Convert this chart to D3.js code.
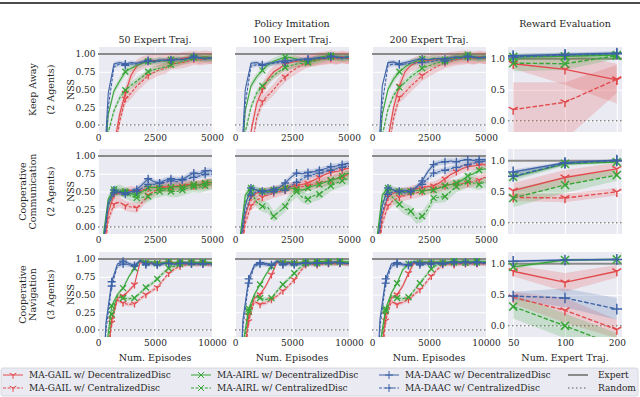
<!DOCTYPE html>
<html>
<head>
<meta charset="utf-8">
<script src="https://cdn.jsdelivr.net/npm/d3@7"></script>
<style>
  body { margin: 0; background: #fff; }
  text { font-family: "DejaVu Serif", serif; fill: #262626; }
</style>
</head>
<body>
<svg id="chart" width="640" height="397"></svg>
<script>
// ---- data ----
var methodNames = ["MA-GAIL w/ DecentralizedDisc", "MA-GAIL w/ CentralizedDisc",
                   "MA-AIRL w/ DecentralizedDisc", "MA-AIRL w/ CentralizedDisc",
                   "MA-DAAC w/ DecentralizedDisc", "MA-DAAC w/ CentralizedDisc"];
var rowLabels = [["Keep Away", "(2 Agents)"], ["Cooperative", "Communication", "(2 Agents)"], ["Cooperative", "Navigation", "(3 Agents)"]];
var colTitles = ["50 Expert Traj.", "100 Expert Traj.", "200 Expert Traj."];
var expertTraj = ["50", "100", "200"];
var nssTicks = [0, 0.25, 0.5, 0.75, 1];
var rewardTicks = [0, 0.5, 1];
var shortTicks = [0, 2500, 5000];
var longTicks = [0, 5000, 10000];

var episodesShort = [200, 450, 700, 950, 1200, 1450, 1700, 1950, 2200, 2450, 2700, 2950, 3200, 3450, 3700, 3950, 4200, 4450, 4700, 4950, 5000];
var episodesLong = [200, 700, 1200, 1700, 2200, 2700, 3200, 3700, 4200, 4700, 5200, 5700, 6200, 6700, 7200, 7700, 8200, 8700, 9200, 9700, 10000];

// NSS curves, order: GAIL dec, GAIL cen, AIRL dec, AIRL cen, DAAC dec, DAAC cen
var keepAway50 = [
  [-2.0, -1.0, -0.3, 0.15, 0.45, 0.7, 0.83, 0.88, 0.9, 0.91, 0.9, 0.92, 0.93, 0.92, 0.94, 0.95, 0.96, 0.95, 0.96, 0.95, 0.95],
  [-2.0, -1.2, -0.5, 0.05, 0.37, 0.45, 0.55, 0.62, 0.7, 0.74, 0.78, 0.8, 0.86, 0.87, 0.88, 0.9, 0.93, 0.92, 0.93, 0.94, 0.93],
  [-1.0, 0.15, 0.48, 0.62, 0.75, 0.8, 0.84, 0.87, 0.9, 0.89, 0.91, 0.9, 0.92, 0.93, 0.92, 0.94, 0.96, 0.95, 0.96, 0.95, 0.95],
  [-1.3, -0.1, 0.2, 0.38, 0.49, 0.56, 0.62, 0.68, 0.75, 0.78, 0.8, 0.82, 0.85, 0.87, 0.9, 0.92, 0.95, 0.94, 0.93, 0.94, 0.93],
  [-1.0, 0.45, 0.86, 0.88, 0.86, 0.88, 0.87, 0.89, 0.91, 0.9, 0.92, 0.91, 0.92, 0.93, 0.92, 0.94, 0.97, 0.95, 0.94, 0.95, 0.94],
  [-1.2, 0.25, 0.82, 0.86, 0.84, 0.86, 0.86, 0.88, 0.9, 0.89, 0.9, 0.92, 0.91, 0.92, 0.93, 0.93, 0.95, 0.94, 0.93, 0.94, 0.93]
];
var keepAway100 = [
  [-2.0, -0.8, -0.1, 0.3, 0.5, 0.65, 0.75, 0.8, 0.86, 0.88, 0.9, 0.91, 0.9, 0.92, 0.94, 0.95, 0.96, 0.95, 0.96, 0.95, 0.95],
  [-2.0, -1.0, -0.4, 0.1, 0.33, 0.42, 0.5, 0.6, 0.68, 0.75, 0.8, 0.85, 0.9, 0.91, 0.92, 0.93, 0.94, 0.93, 0.95, 0.94, 0.94],
  [-1.0, 0.2, 0.55, 0.68, 0.77, 0.85, 0.9, 0.93, 0.96, 0.95, 0.93, 0.9, 0.89, 0.92, 0.95, 0.97, 0.98, 0.96, 0.95, 0.96, 0.95],
  [-1.3, -0.1, 0.25, 0.45, 0.55, 0.62, 0.7, 0.76, 0.81, 0.84, 0.86, 0.87, 0.88, 0.9, 0.92, 0.94, 0.96, 0.95, 0.94, 0.95, 0.94],
  [-1.0, 0.5, 0.87, 0.88, 0.85, 0.87, 0.88, 0.9, 0.9, 0.91, 0.92, 0.93, 0.93, 0.94, 0.95, 0.94, 0.97, 0.96, 0.95, 0.96, 0.95],
  [-1.2, 0.3, 0.83, 0.85, 0.84, 0.86, 0.87, 0.88, 0.88, 0.9, 0.91, 0.92, 0.92, 0.93, 0.94, 0.95, 0.96, 0.95, 0.94, 0.95, 0.94]
];
var keepAway200 = [
  [-2.0, -0.9, -0.2, 0.25, 0.55, 0.75, 0.84, 0.88, 0.9, 0.91, 0.92, 0.93, 0.92, 0.94, 0.95, 0.96, 0.96, 0.95, 0.96, 0.95, 0.95],
  [-2.0, -1.1, -0.4, 0.1, 0.39, 0.46, 0.55, 0.62, 0.7, 0.75, 0.8, 0.84, 0.88, 0.9, 0.92, 0.93, 0.94, 0.93, 0.95, 0.94, 0.94],
  [-1.0, 0.15, 0.5, 0.65, 0.75, 0.82, 0.87, 0.9, 0.93, 0.92, 0.94, 0.93, 0.92, 0.94, 0.96, 0.97, 0.99, 0.96, 0.95, 0.96, 0.95],
  [-1.3, -0.15, 0.22, 0.42, 0.53, 0.6, 0.68, 0.74, 0.8, 0.83, 0.86, 0.88, 0.9, 0.92, 0.94, 0.95, 0.96, 0.95, 0.94, 0.95, 0.94],
  [-1.0, 0.55, 0.88, 0.89, 0.86, 0.88, 0.9, 0.92, 0.93, 0.92, 0.93, 0.94, 0.93, 0.95, 0.96, 0.95, 0.97, 0.96, 0.95, 0.96, 0.95],
  [-1.2, 0.3, 0.84, 0.86, 0.85, 0.86, 0.87, 0.88, 0.88, 0.89, 0.9, 0.92, 0.9, 0.92, 0.94, 0.95, 0.96, 0.95, 0.94, 0.95, 0.94]
];
var commun50 = [
  [-0.5, 0.2, 0.45, 0.48, 0.5, 0.52, 0.5, 0.52, 0.55, 0.56, 0.55, 0.57, 0.56, 0.58, 0.58, 0.6, 0.58, 0.6, 0.62, 0.63, 0.62],
  [-0.6, 0.1, 0.32, 0.35, 0.3, 0.28, 0.27, 0.35, 0.45, 0.5, 0.55, 0.56, 0.55, 0.57, 0.56, 0.58, 0.6, 0.59, 0.6, 0.61, 0.6],
  [-0.2, 0.4, 0.53, 0.5, 0.5, 0.47, 0.45, 0.5, 0.55, 0.56, 0.55, 0.54, 0.56, 0.57, 0.56, 0.58, 0.6, 0.59, 0.62, 0.63, 0.62],
  [-0.3, 0.3, 0.5, 0.52, 0.48, 0.44, 0.41, 0.42, 0.43, 0.48, 0.5, 0.52, 0.5, 0.5, 0.52, 0.55, 0.57, 0.56, 0.58, 0.6, 0.59],
  [-0.3, 0.35, 0.52, 0.48, 0.48, 0.5, 0.53, 0.6, 0.68, 0.64, 0.62, 0.66, 0.68, 0.67, 0.67, 0.72, 0.76, 0.75, 0.79, 0.8, 0.78],
  [-0.4, 0.3, 0.48, 0.5, 0.46, 0.49, 0.5, 0.55, 0.6, 0.6, 0.62, 0.63, 0.65, 0.64, 0.66, 0.68, 0.7, 0.72, 0.74, 0.75, 0.74]
];
var commun100 = [
  [-0.5, 0.15, 0.42, 0.48, 0.5, 0.5, 0.52, 0.53, 0.55, 0.57, 0.58, 0.6, 0.62, 0.66, 0.7, 0.74, 0.77, 0.78, 0.8, 0.83, 0.82],
  [-0.6, 0.05, 0.3, 0.38, 0.42, 0.45, 0.48, 0.5, 0.52, 0.54, 0.55, 0.57, 0.58, 0.6, 0.62, 0.64, 0.66, 0.68, 0.7, 0.74, 0.73],
  [-0.2, 0.45, 0.55, 0.52, 0.5, 0.5, 0.52, 0.53, 0.55, 0.55, 0.53, 0.52, 0.55, 0.58, 0.6, 0.63, 0.66, 0.68, 0.72, 0.76, 0.75],
  [-0.3, 0.35, 0.5, 0.35, 0.29, 0.27, 0.15, 0.22, 0.29, 0.42, 0.5, 0.42, 0.39, 0.44, 0.46, 0.52, 0.58, 0.62, 0.65, 0.68, 0.67],
  [-0.3, 0.3, 0.55, 0.52, 0.5, 0.52, 0.53, 0.56, 0.62, 0.7, 0.76, 0.75, 0.77, 0.78, 0.8, 0.82, 0.85, 0.86, 0.88, 0.9, 0.89],
  [-0.4, 0.2, 0.45, 0.5, 0.5, 0.48, 0.5, 0.52, 0.52, 0.58, 0.63, 0.68, 0.72, 0.74, 0.76, 0.78, 0.8, 0.82, 0.84, 0.86, 0.85]
];
var commun200 = [
  [-0.5, 0.15, 0.42, 0.48, 0.5, 0.5, 0.52, 0.54, 0.55, 0.57, 0.58, 0.62, 0.68, 0.74, 0.78, 0.82, 0.85, 0.86, 0.87, 0.88, 0.87],
  [-0.6, 0.05, 0.3, 0.38, 0.42, 0.44, 0.46, 0.48, 0.5, 0.52, 0.54, 0.56, 0.58, 0.6, 0.6, 0.61, 0.62, 0.64, 0.66, 0.7, 0.69],
  [-0.2, 0.45, 0.55, 0.52, 0.5, 0.5, 0.5, 0.52, 0.5, 0.52, 0.52, 0.55, 0.58, 0.6, 0.62, 0.66, 0.72, 0.75, 0.8, 0.82, 0.81],
  [-0.3, 0.35, 0.5, 0.4, 0.32, 0.25, 0.22, 0.12, 0.15, 0.25, 0.41, 0.42, 0.43, 0.5, 0.57, 0.6, 0.64, 0.62, 0.6, 0.63, 0.62],
  [-0.3, 0.3, 0.55, 0.52, 0.5, 0.52, 0.5, 0.56, 0.65, 0.78, 0.88, 0.91, 0.92, 0.93, 0.92, 0.94, 0.95, 0.94, 0.95, 0.95, 0.94],
  [-0.4, 0.2, 0.46, 0.5, 0.5, 0.48, 0.5, 0.56, 0.6, 0.68, 0.76, 0.78, 0.8, 0.82, 0.84, 0.86, 0.88, 0.9, 0.92, 0.93, 0.92]
];
var navig50 = [
  [-2.5, -0.6, 0.15, 0.45, 0.48, 0.55, 0.64, 0.96, 0.95, 0.94, 0.95, 0.94, 0.95, 0.94, 0.95, 0.94, 0.95, 0.94, 0.95, 0.94, 0.94],
  [-2.5, -0.7, 0.1, 0.42, 0.38, 0.36, 0.37, 0.44, 0.5, 0.55, 0.6, 0.7, 0.8, 0.86, 0.9, 0.92, 0.93, 0.92, 0.93, 0.92, 0.92],
  [-2.0, -0.3, 0.34, 0.5, 0.59, 0.75, 0.87, 0.98, 0.95, 0.96, 0.94, 0.95, 0.96, 0.95, 0.96, 0.95, 0.96, 0.95, 0.96, 0.95, 0.95],
  [-2.0, -0.4, 0.22, 0.48, 0.45, 0.44, 0.45, 0.52, 0.6, 0.65, 0.72, 0.8, 0.87, 0.9, 0.93, 0.94, 0.95, 0.94, 0.95, 0.94, 0.94],
  [-1.5, 0.1, 0.68, 0.93, 0.97, 0.94, 0.91, 0.98, 0.93, 0.95, 0.92, 0.94, 0.94, 0.93, 0.94, 0.95, 0.93, 0.94, 0.93, 0.94, 0.93],
  [-1.6, 0.0, 0.62, 0.9, 0.93, 0.92, 0.9, 0.97, 0.92, 0.93, 0.92, 0.93, 0.94, 0.92, 0.94, 0.93, 0.94, 0.93, 0.94, 0.93, 0.92]
];
var navig100 = [
  [-2.5, -0.5, 0.2, 0.45, 0.5, 0.62, 0.78, 0.96, 0.95, 0.94, 0.95, 0.94, 0.95, 0.95, 0.94, 0.95, 0.95, 0.94, 0.95, 0.94, 0.94],
  [-2.5, -0.7, 0.12, 0.4, 0.36, 0.38, 0.43, 0.48, 0.55, 0.62, 0.71, 0.82, 0.92, 0.93, 0.92, 0.93, 0.94, 0.93, 0.94, 0.93, 0.93],
  [-2.0, -0.2, 0.3, 0.5, 0.64, 0.78, 0.9, 0.97, 0.95, 0.96, 0.94, 0.95, 0.96, 0.95, 0.96, 0.97, 0.96, 0.95, 0.97, 0.96, 0.96],
  [-2.0, -0.3, 0.26, 0.48, 0.45, 0.43, 0.45, 0.55, 0.64, 0.72, 0.8, 0.88, 0.94, 0.95, 0.94, 0.95, 0.96, 0.95, 0.96, 0.95, 0.95],
  [-1.5, 0.15, 0.72, 0.92, 0.95, 0.94, 0.92, 0.97, 0.93, 0.95, 0.93, 0.94, 0.95, 0.94, 0.95, 0.94, 0.95, 0.96, 0.95, 0.94, 0.94],
  [-1.6, 0.05, 0.66, 0.9, 0.93, 0.92, 0.91, 0.96, 0.92, 0.93, 0.92, 0.93, 0.94, 0.93, 0.94, 0.94, 0.95, 0.94, 0.95, 0.94, 0.93]
];
var navig200 = [
  [-2.5, -0.5, 0.22, 0.45, 0.5, 0.62, 0.8, 0.95, 0.94, 0.95, 0.94, 0.95, 0.94, 0.95, 0.94, 0.95, 0.94, 0.95, 0.94, 0.95, 0.94],
  [-2.5, -0.7, 0.13, 0.4, 0.36, 0.39, 0.43, 0.5, 0.57, 0.66, 0.76, 0.85, 0.92, 0.93, 0.92, 0.93, 0.94, 0.93, 0.94, 0.93, 0.93],
  [-2.0, -0.2, 0.3, 0.52, 0.66, 0.85, 0.93, 0.96, 0.95, 0.96, 0.95, 0.96, 0.95, 0.96, 0.97, 0.96, 0.95, 0.96, 0.97, 0.96, 0.96],
  [-2.0, -0.3, 0.27, 0.48, 0.45, 0.44, 0.46, 0.56, 0.66, 0.76, 0.86, 0.92, 0.95, 0.94, 0.95, 0.96, 0.95, 0.96, 0.95, 0.96, 0.95],
  [-1.5, 0.15, 0.72, 0.93, 0.95, 0.93, 0.92, 0.96, 0.94, 0.95, 0.94, 0.95, 0.94, 0.95, 0.96, 0.95, 0.96, 0.95, 0.96, 0.95, 0.95],
  [-1.6, 0.05, 0.66, 0.9, 0.93, 0.92, 0.91, 0.95, 0.92, 0.93, 0.93, 0.94, 0.93, 0.94, 0.95, 0.94, 0.95, 0.94, 0.95, 0.94, 0.94]
];
// half-width of the shaded band per method, one list per task
var keepAwaySpread = [0.09, 0.08, 0.05, 0.05, 0.03, 0.03];
var communSpread = [0.06, 0.07, 0.05, 0.08, 0.04, 0.04];
var navigSpread = [0.03, 0.03, 0.03, 0.03, 0.03, 0.03];

// reward evaluation: mean, lower and upper band at 50 / 100 / 200 traj
var keepAwayReward = [[0.92, 0.83, 0.66], [0.18, 0.30, 0.67], [1.03, 1.04, 1.06], [0.93, 0.92, 1.05], [1.05, 1.07, 1.09], [1.03, 1.06, 1.08]];
var keepAwayRewardLo = [[0.84, 0.58, 0.28], [-0.3, -0.3, 0.45], [0.98, 0.99, 1.02], [0.8, 0.82, 1.0], [1.02, 1.04, 1.06], [1.0, 1.03, 1.05]];
var keepAwayRewardHi = [[0.98, 1.1, 0.92], [0.62, 0.62, 0.9], [1.08, 1.09, 1.1], [1.02, 1.0, 1.1], [1.08, 1.1, 1.12], [1.06, 1.09, 1.11]];
var communReward = [[0.52, 0.73, 0.87], [0.41, 0.40, 0.5], [0.74, 0.95, 0.98], [0.40, 0.61, 0.77], [0.82, 0.97, 1.01], [0.75, 0.96, 1.0]];
var communRewardLo = [[0.4, 0.6, 0.78], [0.35, 0.33, 0.44], [0.68, 0.92, 0.96], [0.25, 0.48, 0.68], [0.78, 0.95, 0.99], [0.71, 0.93, 0.98]];
var communRewardHi = [[0.64, 0.85, 0.97], [0.47, 0.47, 0.56], [0.8, 0.98, 1.0], [0.55, 0.74, 0.86], [0.86, 0.99, 1.03], [0.79, 0.99, 1.02]];
var navigReward = [[0.88, 0.7, 0.88], [0.46, 0.25, -0.06], [0.95, 1.06, 1.07], [0.31, 0.0, -0.32], [1.04, 1.06, 1.07], [0.48, 0.45, 0.27]];
var navigRewardLo = [[0.8, 0.55, 0.78], [0.35, 0.05, -0.2], [0.92, 1.04, 1.05], [0.12, -0.2, -0.5], [1.02, 1.04, 1.05], [0.42, 0.3, 0.1]];
var navigRewardHi = [[0.98, 0.85, 0.98], [0.55, 0.45, 0.1], [0.98, 1.08, 1.09], [0.5, 0.2, -0.12], [1.06, 1.08, 1.09], [0.55, 0.6, 0.45]];

// ---- layout / style ----
var colX = [98, 235, 372, 508];
var rowY = [47, 149, 252];
var panelW = 114, panelH = 85;
var bg = "#eaeaf2";
var mColors = ["#e24a4c", "#e24a4c", "#37a637", "#37a637", "#3d62a6", "#3d62a6"];
var mDash = [null, "3,1.6", null, "3,1.6", null, "3,1.6"];
var mShape = ["tri", "tri", "x", "x", "plus", "plus"];

var rows = [
  {eps: episodesShort, maxX: 5000, ticks: shortTicks, mStart: 4, mStep: 4, spread: keepAwaySpread, panels: [keepAway50, keepAway100, keepAway200],
   reward: keepAwayReward, lo: keepAwayRewardLo, hi: keepAwayRewardHi},
  {eps: episodesShort, maxX: 5000, ticks: shortTicks, mStart: 2, mStep: 2, spread: communSpread, panels: [commun50, commun100, commun200],
   reward: communReward, lo: communRewardLo, hi: communRewardHi},
  {eps: episodesLong, maxX: 10000, ticks: longTicks, mStart: 2, mStep: 2, spread: navigSpread, panels: [navig50, navig100, navig200],
   reward: navigReward, lo: navigRewardLo, hi: navigRewardHi}
];

function markerPath(shape) {
  if (shape == "tri") {
    var r = 3.8;
    return "M0,0L0," + r + "M0,0L" + (-0.87 * r) + "," + (-0.5 * r) + "M0,0L" + (0.87 * r) + "," + (-0.5 * r);
  }
  if (shape == "x") {
    var s = 3;
    return "M" + (-s) + "," + (-s) + "L" + s + "," + s + "M" + (-s) + "," + s + "L" + s + "," + (-s);
  }
  var p = 4;
  return "M" + (-p) + ",0L" + p + ",0M0," + (-p) + "L0," + p;
}

var svg = d3.select("#chart");
var defs = svg.append("defs");

// cut-off rule from the page above
svg.append("line").attr("x1", 0).attr("x2", 640).attr("y1", 3).attr("y2", 3)
  .style("stroke", "#111").style("stroke-width", 1.4);

function panelBase(x0, y0, xScale, yScale, xTicks, yTicks, id) {
  svg.append("rect").attr("x", x0).attr("y", y0).attr("width", panelW).attr("height", panelH).style("fill", bg);
  var gx = svg.append("g").attr("transform", "translate(0," + (y0 + panelH) + ")")
    .call(d3.axisBottom(xScale).tickValues(xTicks).tickSize(-panelH).tickFormat(""));
  var gy = svg.append("g").attr("transform", "translate(" + x0 + ",0)")
    .call(d3.axisLeft(yScale).tickValues(yTicks).tickSize(-panelW).tickFormat(""));
  [gx, gy].forEach(function (g) {
    g.select(".domain").remove();
    g.selectAll("line").style("stroke", "#fff").style("stroke-width", 1);
  });
  defs.append("clipPath").attr("id", id).append("rect")
    .attr("x", x0).attr("y", y0).attr("width", panelW).attr("height", panelH);
  var g = svg.append("g").attr("clip-path", "url(#" + id + ")");
  // expert and random reference lines
  g.append("line").attr("x1", x0).attr("x2", x0 + panelW).attr("y1", yScale(1)).attr("y2", yScale(1))
    .style("stroke", "#8a8a8a").style("stroke-width", 2);
  g.append("line").attr("x1", x0).attr("x2", x0 + panelW).attr("y1", yScale(0)).attr("y2", yScale(0))
    .style("stroke", "#8a8a8a").style("stroke-width", 1.5).style("stroke-dasharray", "1.5,2.5");
  return g;
}

function tickLabels(axis, transform) {
  var g = svg.append("g").attr("transform", transform).call(axis);
  g.select(".domain").remove();
  g.selectAll("line").remove();
  g.selectAll("text").style("font-family", "DejaVu Serif").style("font-size", "9px").style("fill", "#262626");
  return g;
}

rows.forEach(function (row, r) {
  var y0 = rowY[r];
  var y = d3.scaleLinear().domain([-0.1, 1.1]).range([y0 + panelH, y0]);

  row.panels.forEach(function (series, c) {
    var x0 = colX[c];
    var x = d3.scaleLinear().domain([0, row.maxX]).range([x0, x0 + panelW]);
    var g = panelBase(x0, y0, x, y, row.ticks, nssTicks, "clip" + r + c);

    series.forEach(function (vals, m) {
      var area = d3.area().x(function (d, i) { return x(row.eps[i]); })
        .y0(function (d) { return y(d - row.spread[m]); })
        .y1(function (d) { return y(d + row.spread[m]); });
      g.append("path").attr("d", area(vals)).style("fill", mColors[m]).style("fill-opacity", 0.2);
    });
    series.forEach(function (vals, m) {
      var line = d3.line().x(function (d, i) { return x(row.eps[i]); }).y(function (d) { return y(d); });
      g.append("path").attr("d", line(vals)).style("fill", "none").style("stroke", mColors[m])
        .style("stroke-width", 1.1).style("stroke-dasharray", mDash[m]);
      vals.forEach(function (v, i) {
        if (i >= row.mStart && (i - row.mStart) % row.mStep == 0 && i < vals.length - 1) {
          g.append("path").attr("d", markerPath(mShape[m]))
            .attr("transform", "translate(" + x(row.eps[i]) + "," + y(v) + ")")
            .style("fill", "none").style("stroke", mColors[m]).style("stroke-width", 1.3);
        }
      });
    });

    tickLabels(d3.axisBottom(x).tickValues(row.ticks).tickSize(0).tickPadding(2.5).tickFormat(d3.format("d")),
      "translate(0," + (y0 + panelH) + ")");
    if (c == 0) {
      tickLabels(d3.axisLeft(y).tickValues(nssTicks).tickSize(0).tickPadding(2.5).tickFormat(d3.format(".2f")),
        "translate(" + x0 + ",0)");
      svg.append("text").attr("transform", "translate(73.5," + (y0 + panelH / 2) + ") rotate(-90)")
        .attr("text-anchor", "middle").style("font-size", "9.5px").text("NSS");
    }
    if (r == 0) {
      svg.append("text").attr("x", x0 + panelW / 2).attr("y", y0 - 4).attr("text-anchor", "middle")
        .style("font-size", "9.5px").text(colTitles[c]);
    }
    if (r == 2) {
      svg.append("text").attr("x", x0 + panelW / 2).attr("y", 360.5).attr("text-anchor", "middle")
        .style("font-size", "9.5px").text("Num. Episodes");
    }
  });

  // reward evaluation panel
  var rx0 = colX[3];
  var rx = d3.scalePoint().domain(expertTraj).range([rx0, rx0 + panelW]).padding(0.1);
  var ry = d3.scaleLinear().domain([-0.18, 1.19]).range([y0 + panelH, y0]);
  var rg = panelBase(rx0, y0, rx, ry, expertTraj, rewardTicks, "rclip" + r);
  row.reward.forEach(function (vals, m) {
    var area = d3.area().x(function (d, i) { return rx(expertTraj[i]); })
      .y0(function (d, i) { return ry(row.lo[m][i]); })
      .y1(function (d, i) { return ry(row.hi[m][i]); });
    rg.append("path").attr("d", area(vals)).style("fill", mColors[m]).style("fill-opacity", 0.2);
  });
  row.reward.forEach(function (vals, m) {
    var line = d3.line().x(function (d, i) { return rx(expertTraj[i]); }).y(function (d) { return ry(d); });
    rg.append("path").attr("d", line(vals)).style("fill", "none").style("stroke", mColors[m])
      .style("stroke-width", 1.4).style("stroke-dasharray", mDash[m] ? "4.5,2" : null);
    vals.forEach(function (v, i) {
      rg.append("path").attr("d", markerPath(mShape[m]))
        .attr("transform", "translate(" + rx(expertTraj[i]) + "," + ry(v) + ") scale(1.35)")
        .style("fill", "none").style("stroke", mColors[m]).style("stroke-width", 1.1);
    });
  });
  tickLabels(d3.axisLeft(ry).tickValues(rewardTicks).tickSize(0).tickPadding(3).tickFormat(d3.format(".1f")),
    "translate(" + rx0 + ",0)");
  if (r == 2) {
    tickLabels(d3.axisBottom(rx).tickSize(0).tickPadding(2.5), "translate(0," + (y0 + panelH) + ")");
    svg.append("text").attr("x", rx0 + panelW / 2).attr("y", 360.5).attr("text-anchor", "middle")
      .style("font-size", "9.5px").text("Num. Expert Traj.");
  }

  // row labels on the left
  var lines = rowLabels[r];
  var lx = lines.length == 2 ? [35.5, 53.5] : [25.5, 35.5, 53.5];
  lines.forEach(function (t, k) {
    svg.append("text").attr("transform", "translate(" + lx[k] + "," + (y0 + panelH / 2) + ") rotate(-90)")
      .attr("text-anchor", "middle").style("font-size", "9.5px").text(t);
  });
});

// group titles
svg.append("text").attr("x", 292).attr("y", 27).attr("text-anchor", "middle").style("font-size", "9.5px").text("Policy Imitation");
svg.append("text").attr("x", 565).attr("y", 27).attr("text-anchor", "middle").style("font-size", "9.5px").text("Reward Evaluation");

// legend
var legend = svg.append("g");
legend.append("rect").attr("x", 1).attr("y", 368).attr("width", 637).attr("height", 28).attr("rx", 2)
  .style("fill", bg).style("stroke", "#d0d0d8").style("stroke-width", 0.8);
var legCols = [3, 191, 379, 568];
var legRows = [375, 388];
methodNames.forEach(function (name, m) {
  var lx = legCols[Math.floor(m / 2)], ly = legRows[m % 2];
  legend.append("line").attr("x1", lx).attr("x2", lx + 20).attr("y1", ly).attr("y2", ly)
    .style("stroke", mColors[m]).style("stroke-width", 1).style("stroke-dasharray", mDash[m]);
  legend.append("path").attr("d", markerPath(mShape[m])).attr("transform", "translate(" + (lx + 10) + "," + ly + ")")
    .style("fill", "none").style("stroke", mColors[m]).style("stroke-width", 1);
  legend.append("text").attr("x", lx + 26).attr("y", ly + 3.2).style("font-size", "9px").text(name);
});
legend.append("line").attr("x1", legCols[3]).attr("x2", legCols[3] + 20).attr("y1", legRows[0]).attr("y2", legRows[0])
  .style("stroke", "#8a8a8a").style("stroke-width", 2);
legend.append("text").attr("x", legCols[3] + 30).attr("y", legRows[0] + 3.2).style("font-size", "9px").text("Expert");
legend.append("line").attr("x1", legCols[3]).attr("x2", legCols[3] + 20).attr("y1", legRows[1]).attr("y2", legRows[1])
  .style("stroke", "#8a8a8a").style("stroke-width", 1.5).style("stroke-dasharray", "1.5,2.5");
legend.append("text").attr("x", legCols[3] + 30).attr("y", legRows[1] + 3.2).style("font-size", "9px").text("Random");
</script>
</body>
</html>
